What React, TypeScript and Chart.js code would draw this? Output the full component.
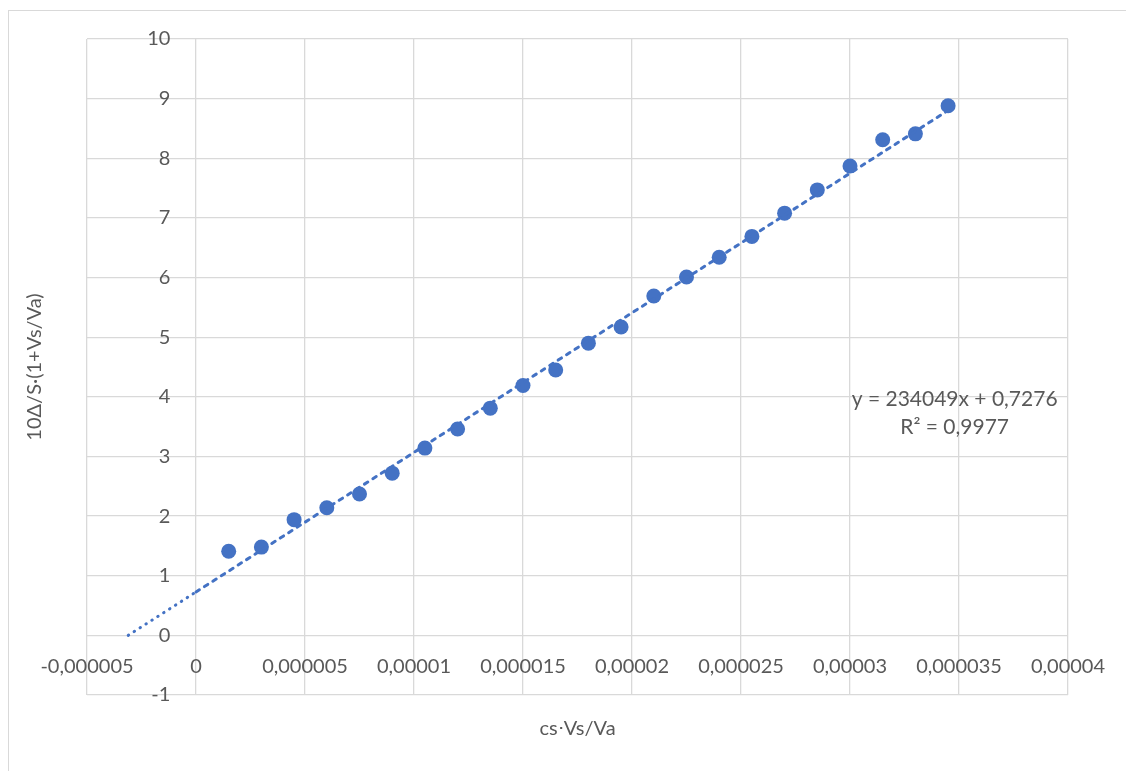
import React, { useEffect, useRef } from 'react';
import { Chart, registerables } from 'chart.js';

Chart.register(...registerables);

// ---- data ----
const xValues = [
  0.0000015, 0.000003, 0.0000045, 0.000006, 0.0000075, 0.000009, 0.0000105, 0.000012,
  0.0000135, 0.000015, 0.0000165, 0.000018, 0.0000195, 0.000021, 0.0000225, 0.000024,
  0.0000255, 0.000027, 0.0000285, 0.00003, 0.0000315, 0.000033, 0.0000345,
];
const yValues = [
  1.41, 1.48, 1.94, 2.14, 2.37, 2.72, 3.14, 3.46, 3.81, 4.19, 4.45, 4.9, 5.17, 5.69, 6.01,
  6.34, 6.69, 7.08, 7.47, 7.87, 8.31, 8.41, 8.88,
];
const trendSlope = 234049;
const trendIntercept = 0.7276;
const trendLabelLines = ['y = 234049x + 0,7276', 'R² = 0,9977'];
const trendLabelAnchor = [0.0000348, 3.955];

const xTickValues = [
  -0.000005, 0, 0.000005, 0.00001, 0.000015, 0.00002, 0.000025, 0.00003, 0.000035, 0.00004,
];
const xTickLabels = [
  '-0,000005', '0', '0,000005', '0,00001', '0,000015', '0,00002', '0,000025', '0,00003',
  '0,000035', '0,00004',
];
const yTickValues = [-1, 0, 1, 2, 3, 4, 5, 6, 7, 8, 9, 10];
const yTickLabels = ['-1', '0', '1', '2', '3', '4', '5', '6', '7', '8', '9', '10'];

const xTitle = 'cs⋅Vs/Va';
const yTitle = '10Δ/S·(1+Vs/Va)';

const BLUE = '#4472C4';
const GRID = '#D9D9D9';
const TEXT = '#595959';
const FONT = 'Lato';
const Y_LABEL_GAP = '     ';

const xMin = xTickValues[0];
const xMax = xTickValues[xTickValues.length - 1];
const yMin = yTickValues[0];
const yMax = yTickValues[yTickValues.length - 1];

const trendAt = (x: number) => trendSlope * x + trendIntercept;
const xZeroCross = -trendIntercept / trendSlope;
const xLast = xValues[xValues.length - 1];

const equationPlugin = {
  id: 'equationLabel',
  afterDatasetsDraw(chart: any) {
    const { ctx, scales } = chart;
    const cx = scales.x.getPixelForValue(trendLabelAnchor[0]);
    const cy = scales.y.getPixelForValue(trendLabelAnchor[1]);
    ctx.save();
    ctx.font = `21px ${FONT}`;
    ctx.fillStyle = TEXT;
    ctx.textAlign = 'center';
    ctx.textBaseline = 'middle';
    trendLabelLines.forEach((t, i) => ctx.fillText(t, cx, cy + i * 28));
    ctx.restore();
  },
};

export default function App() {
  const canvasRef = useRef<HTMLCanvasElement | null>(null);

  useEffect(() => {
    if (!canvasRef.current) return;
    const setX = (s: any) => {
      s.ticks = xTickValues.map((v) => ({ value: v }));
    };
    const setY = (s: any) => {
      s.ticks = yTickValues.map((v) => ({ value: v }));
    };
    const tickFont = { family: FONT, size: 20 };
    const chart = new Chart(canvasRef.current, {
      type: 'scatter',
      data: {
        datasets: [
          {
            type: 'line',
            label: 'trend-forward',
            data: [
              { x: 0, y: trendAt(0) },
              { x: xLast, y: trendAt(xLast) },
            ],
            borderColor: BLUE,
            borderWidth: 3,
            borderDash: [4, 6],
            borderCapStyle: 'round',
            pointRadius: 0,
            fill: false,
            order: 0,
          } as any,
          {
            type: 'line',
            label: 'trend-backward',
            data: [
              { x: xZeroCross, y: trendAt(xZeroCross) },
              { x: 0, y: trendAt(0) },
            ],
            borderColor: BLUE,
            borderWidth: 3,
            borderDash: [0.5, 6.5],
            borderCapStyle: 'round',
            pointRadius: 0,
            fill: false,
            order: 0,
          } as any,
          {
            label: 'data',
            data: xValues.map((x, i) => ({ x, y: yValues[i] })),
            backgroundColor: BLUE,
            borderColor: BLUE,
            borderWidth: 0,
            pointRadius: 7.5,
            pointHoverRadius: 7.5,
            order: 1,
          },
        ],
      },
      options: {
        animation: false,
        responsive: true,
        maintainAspectRatio: false,
        layout: { padding: { left: 0, top: 28, right: 58, bottom: 0 } },
        plugins: { legend: { display: false }, tooltip: { enabled: false } },
        scales: {
          x: {
            type: 'linear',
            position: 'bottom',
            min: xMin,
            max: xMax,
            afterBuildTicks: setX,
            grid: { color: GRID, lineWidth: 1.3, drawTicks: false },
            border: { display: false },
            ticks: { display: false },
            title: {
              display: true,
              text: xTitle,
              color: TEXT,
              font: tickFont,
              padding: { top: 22, bottom: 30 },
            },
          },
          y: {
            type: 'linear',
            position: 'left',
            min: yMin,
            max: yMax,
            afterBuildTicks: setY,
            grid: { color: GRID, lineWidth: 1.3, drawTicks: false },
            border: { display: false },
            ticks: { display: false },
            title: {
              display: true,
              text: yTitle,
              color: TEXT,
              font: tickFont,
              padding: { top: 14, bottom: 40 },
            },
          },
          xAxis: {
            type: 'linear',
            axis: 'x',
            position: { y: 0 },
            min: xMin,
            max: xMax,
            afterBuildTicks: setX,
            grid: { display: false, drawTicks: false },
            border: { display: false },
            ticks: {
              color: TEXT,
              font: tickFont,
              padding: 19,
              autoSkip: false,
              maxRotation: 0,
              callback: (_v: any, i: number) => xTickLabels[i],
            },
          },
          yAxis: {
            type: 'linear',
            axis: 'y',
            position: { x: 0 },
            min: yMin,
            max: yMax,
            afterBuildTicks: setY,
            grid: { display: false, drawTicks: false },
            border: { display: false },
            ticks: {
              color: TEXT,
              font: tickFont,
              padding: 0,
              autoSkip: false,
              callback: (_v: any, i: number) => yTickLabels[i] + Y_LABEL_GAP,
            },
          },
        } as any,
      },
      plugins: [equationPlugin],
    } as any);
    return () => chart.destroy();
  }, []);

  return (
    <div
      style={{
        position: 'absolute',
        left: 8,
        top: 10,
        width: 1118,
        height: 761,
        borderTop: `1px solid ${GRID}`,
        borderLeft: `1px solid ${GRID}`,
        boxSizing: 'border-box',
        background: '#fff',
      }}
    >
      <div style={{ position: 'relative', width: 1117, height: 760 }}>
        <canvas ref={canvasRef} />
      </div>
    </div>
  );
}
